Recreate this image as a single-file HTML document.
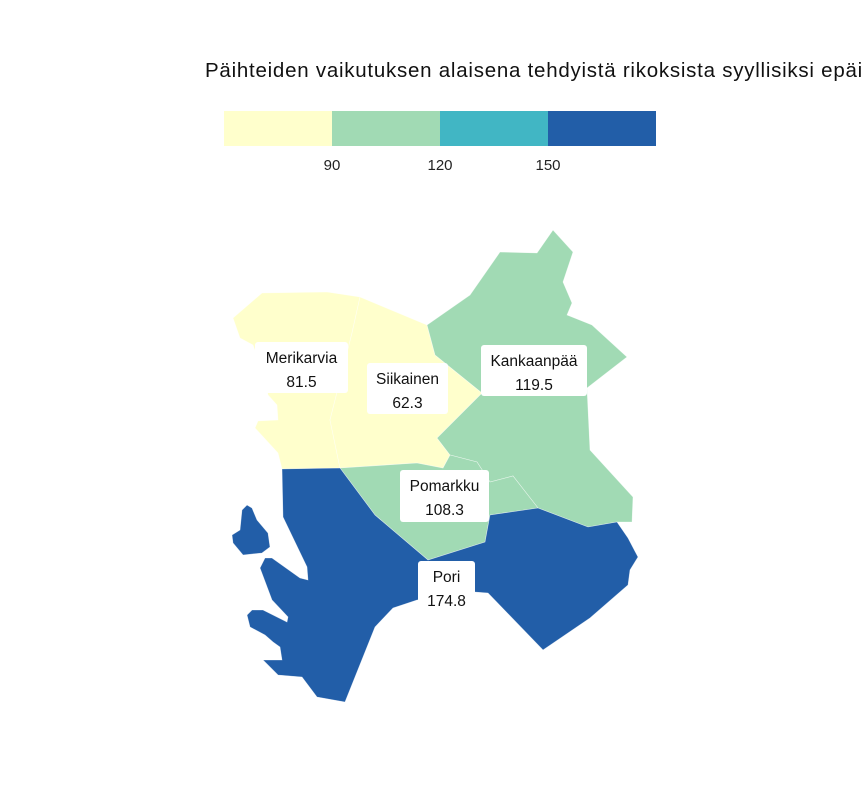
<!DOCTYPE html>
<html><head><meta charset="utf-8">
<style>
html,body{margin:0;padding:0;background:#fff;width:864px;height:792px;overflow:hidden}
svg{display:block;font-family:"Liberation Sans",sans-serif}
</style></head><body>
<svg id="chart" width="864" height="792" viewBox="0 0 864 792">
<text x="205" y="77" font-size="20.5" letter-spacing="0.75" fill="#111">Päihteiden vaikutuksen alaisena tehdyistä rikoksista syyllisiksi epäillyt</text>
<g id="legend"></g>
<g id="regions"></g>
<g id="labels"></g>
</svg>
<script>
const regionNames = ["Merikarvia","Siikainen","Kankaanpää","Pomarkku","Pori"];
const regionValues = [81.5, 62.3, 119.5, 108.3, 174.8];
const thresholds = [90, 120, 150];
const legendColors = ["#ffffcc","#a1dab4","#41b6c4","#225ea8"];

const shapes = {
 "Merikarvia":[[[233,318],[262,293],[327,292],[360,297],[352,333],[330,420],[340,468],[282,469],[278,453],[255,428],[258,421],[278,420],[277,405],[268,395],[265,378],[253,345],[240,338]]],
 "Siikainen":[[[360,297],[427,325],[435,355],[482,393],[437,438],[450,455],[443,468],[417,463],[340,468],[330,420],[352,333]]],
 "Kankaanpää":[[[427,325],[470,295],[500,252],[537,253],[553,230],[573,252],[563,282],[572,303],[567,315],[592,325],[627,357],[587,388],[590,450],[633,497],[632,522],[617,522],[588,527],[538,508],[513,476],[490,482],[477,462],[450,455],[437,438],[482,393],[435,355]]],
 "Pomarkku":[[[340,468],[417,463],[443,468],[450,455],[477,462],[490,482],[513,476],[538,508],[490,515],[485,542],[428,560],[375,515]]],
 "Pori":[[[282,469],[340,468],[375,515],[428,560],[485,542],[490,515],[538,508],[588,527],[617,522],[628,538],[638,557],[630,570],[628,585],[590,618],[543,650],[488,593],[475,592],[417,600],[393,608],[375,627],[345,702],[317,697],[302,677],[278,675],[263,660],[282,660],[280,647],[273,642],[265,635],[250,627],[247,615],[252,610],[263,610],[287,622],[288,617],[272,600],[260,568],[265,558],[272,558],[300,578],[308,580],[307,567],[283,517]],
  [[242,510],[247,505],[252,508],[257,520],[268,533],[270,547],[262,553],[243,555],[233,543],[232,535],[240,530]]]
};
const labelBoxes = {"Merikarvia":[255,342,348,393],"Siikainen":[367,363,448,414],"Kankaanpää":[481,345,587,396],"Pomarkku":[400,470,489,522],"Pori":[418,561,475,607]};

const NS="http://www.w3.org/2000/svg";
function colorFor(v){let i=0;while(i<thresholds.length&&v>=thresholds[i])i++;return legendColors[i];}
const lg=document.getElementById('legend');
const lx0=224,lx1=656,segW=(lx1-lx0)/legendColors.length;
legendColors.forEach((c,i)=>{
 const r=document.createElementNS(NS,'rect');
 r.setAttribute('x',lx0+i*segW);r.setAttribute('y',111);r.setAttribute('width',segW);r.setAttribute('height',35);r.setAttribute('fill',c);
 
 
 lg.appendChild(r);
});
thresholds.forEach((t,i)=>{
 const tx=document.createElementNS(NS,'text');
 tx.setAttribute('x',lx0+(i+1)*segW);tx.setAttribute('y',170);tx.setAttribute('text-anchor','middle');tx.setAttribute('font-size','15');tx.setAttribute('fill','#222');
 tx.textContent=t;
 
 
 lg.appendChild(tx);
});
const rg=document.getElementById('regions'),lb=document.getElementById('labels');
regionNames.forEach((n,i)=>{
 const p=document.createElementNS(NS,'path');
 p.setAttribute('d',shapes[n].map(ring=>'M'+ring.map(q=>q.join(',')).join('L')+'Z').join(''));
 p.setAttribute('fill',colorFor(regionValues[i]));p.setAttribute('stroke','#fff');p.setAttribute('stroke-width','0.6');p.setAttribute('stroke-opacity','0.6');
 
 
 rg.appendChild(p);
});
regionNames.forEach((n,i)=>{
 const b=labelBoxes[n];
 const g=document.createElementNS(NS,'g');
 
 
 const r=document.createElementNS(NS,'rect');
 r.setAttribute('x',b[0]);r.setAttribute('y',b[1]);r.setAttribute('width',b[2]-b[0]);r.setAttribute('height',b[3]-b[1]);r.setAttribute('rx',3);r.setAttribute('fill','#fff');
 g.appendChild(r);
 const cx=(b[0]+b[2])/2;
 [[n,b[1]+21],[regionValues[i].toFixed(1),b[1]+45]].forEach(([s,y])=>{
  const t=document.createElementNS(NS,'text');
  t.setAttribute('x',cx);t.setAttribute('y',y);t.setAttribute('text-anchor','middle');t.setAttribute('font-size','15.5');t.setAttribute('fill','#111');
  t.textContent=s;g.appendChild(t);
 });
 lb.appendChild(g);
});
</script>
</body></html>
